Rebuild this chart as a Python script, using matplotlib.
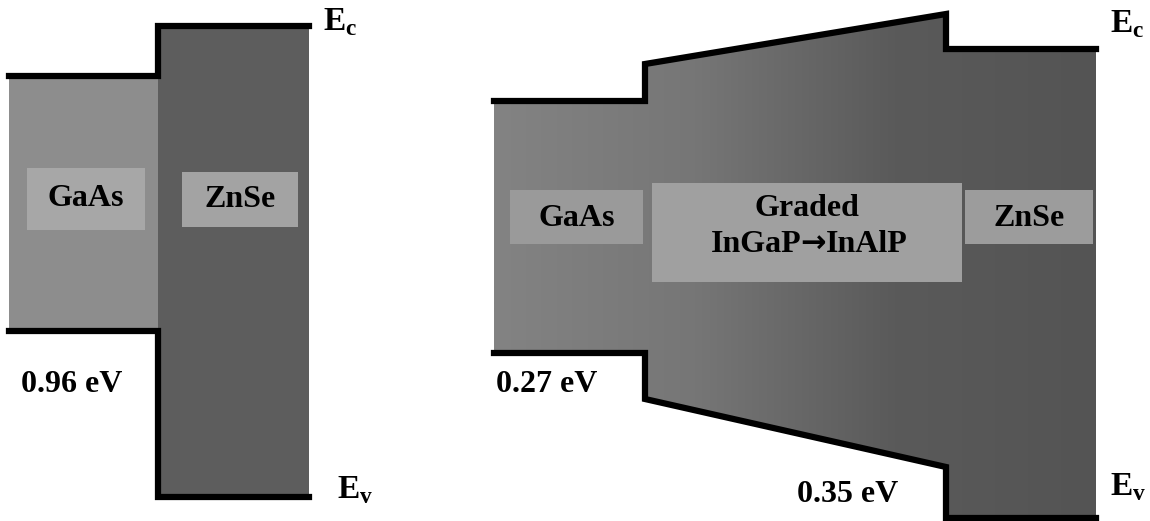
import matplotlib
matplotlib.use('Agg')
import matplotlib.pyplot as plt
import numpy as np
from matplotlib.patches import Polygon, Rectangle

plt.rcParams['font.family'] = ['Liberation Serif', 'DejaVu Serif']
plt.rcParams['mathtext.fontset'] = 'custom'
plt.rcParams['mathtext.rm'] = 'Liberation Serif'
plt.rcParams['mathtext.bf'] = 'Liberation Serif:bold'

# band edges, in picture units (y grows downward)
# left: GaAs / ZnSe
left_x = [9, 158, 309]           # layer boundaries
left_ec = [76, 26]               # conduction band per layer
left_ev = [331, 497]             # valence band per layer
left_names = ['GaAs', 'ZnSe']
left_offset = '0.96 eV'

# right: GaAs / graded InGaP->InAlP / ZnSe
right_x = [494, 645, 946, 1096]
right_ec = [(101, 101), (64, 14), (49, 49)]     # (start, end) per layer
right_ev = [(353, 353), (399, 467), (518, 518)]
right_names = ['GaAs', ['Graded', 'InGaP', '\u2192', 'InAlP'], 'ZnSe']
right_offsets = ['0.27 eV', '0.35 eV']

fig = plt.figure(figsize=(11.5, 5.21), dpi=100)
ax = fig.add_axes([0, 0, 1, 1])
ax.set_xlim(0, 1150)
ax.set_ylim(521, 0)
ax.axis('off')

lw = 4.5
fs = 23
bold = dict(fontweight='bold', color='black', ha='center', va='center')

# ---- left diagram
fills = ['#8d8d8d', '#5d5d5d']
for i in range(2):
    ax.add_patch(Rectangle((left_x[i], left_ec[i]), left_x[i + 1] - left_x[i],
                           left_ev[i] - left_ec[i], color=fills[i], lw=0, zorder=1))
ec_x = [left_x[0], left_x[1], left_x[1], left_x[2]]
ax.plot(ec_x, [left_ec[0], left_ec[0], left_ec[1], left_ec[1]], color='black',
        lw=lw, solid_joinstyle='miter', zorder=3)
ax.plot(ec_x, [left_ev[0], left_ev[0], left_ev[1], left_ev[1]], color='black',
        lw=lw, solid_joinstyle='miter', zorder=3)

boxes_left = [(27, 168, 118, 62, '#a7a7a7'), (182, 172, 116, 55, '#a3a3a3')]
for (bx, by, bw, bh, c), name in zip(boxes_left, left_names):
    ax.add_patch(Rectangle((bx, by), bw, bh, color=c, lw=0, zorder=2))
    ax.text(bx + bw / 2, by + bh / 2, name, fontsize=fs, zorder=4, **bold)
ax.text(72, 385, left_offset, fontsize=fs, **bold)
ax.text(340, 22, r'$\mathbf{E}_\mathbf{c}$', fontsize=24, ha='center', va='center')
ax.text(355, 490, r'$\mathbf{E}_\mathbf{v}$', fontsize=24, ha='center', va='center')

# ---- right diagram
ec_pts = []
ev_pts = []
for i in range(3):
    ec_pts += [(right_x[i], right_ec[i][0]), (right_x[i + 1], right_ec[i][1])]
    ev_pts += [(right_x[i], right_ev[i][0]), (right_x[i + 1], right_ev[i][1])]
outline = ec_pts + ev_pts[::-1]
poly = Polygon(outline, closed=True, facecolor='none', lw=0)
ax.add_patch(poly)
grad = np.linspace(0, 1, 256).reshape(1, -1)
img = ax.imshow(grad, cmap=matplotlib.colors.LinearSegmentedColormap.from_list(
    'g', ['#838383', '#767676', '#5a5a5a', '#545454']),
    extent=[right_x[0], right_x[-1], 521, 0], aspect='auto', zorder=1)
img.set_clip_path(poly)
ax.plot(*zip(*ec_pts), color='black', lw=lw, solid_joinstyle='miter', zorder=3)
ax.plot(*zip(*ev_pts), color='black', lw=lw, solid_joinstyle='miter', zorder=3)

boxes_right = [(510, 190, 133, 54, '#9a9a9a'), (652, 183, 310, 99, '#a0a0a0'),
               (965, 190, 128, 54, '#9c9c9c')]
for (bx, by, bw, bh, c), name in zip(boxes_right, right_names):
    ax.add_patch(Rectangle((bx, by), bw, bh, color=c, lw=0, zorder=2))
    if isinstance(name, list):
        cx = bx + bw / 2
        ax.text(cx, 208, name[0], fontsize=fs, zorder=4, **bold)
        ax.text(cx + 6, 244, name[2], fontsize=22, zorder=4, fontweight='bold',
                family='DejaVu Sans', ha='center', va='center')
        ax.text(cx - 6, 244, name[1], fontsize=fs, zorder=4, fontweight='bold',
                ha='right', va='center')
        ax.text(cx + 19, 244, name[3], fontsize=fs, zorder=4, fontweight='bold',
                ha='left', va='center')
    else:
        ax.text(bx + bw / 2, by + bh / 2 + 2, name, fontsize=fs, zorder=4, **bold)
ax.text(547, 385, right_offsets[0], fontsize=fs, **bold)
ax.text(848, 495, right_offsets[1], fontsize=fs, **bold)
ax.text(1127, 24, r'$\mathbf{E}_\mathbf{c}$', fontsize=24, ha='center', va='center')
ax.text(1128, 487, r'$\mathbf{E}_\mathbf{v}$', fontsize=24, ha='center', va='center')

fig.savefig('out.png', dpi=100)
